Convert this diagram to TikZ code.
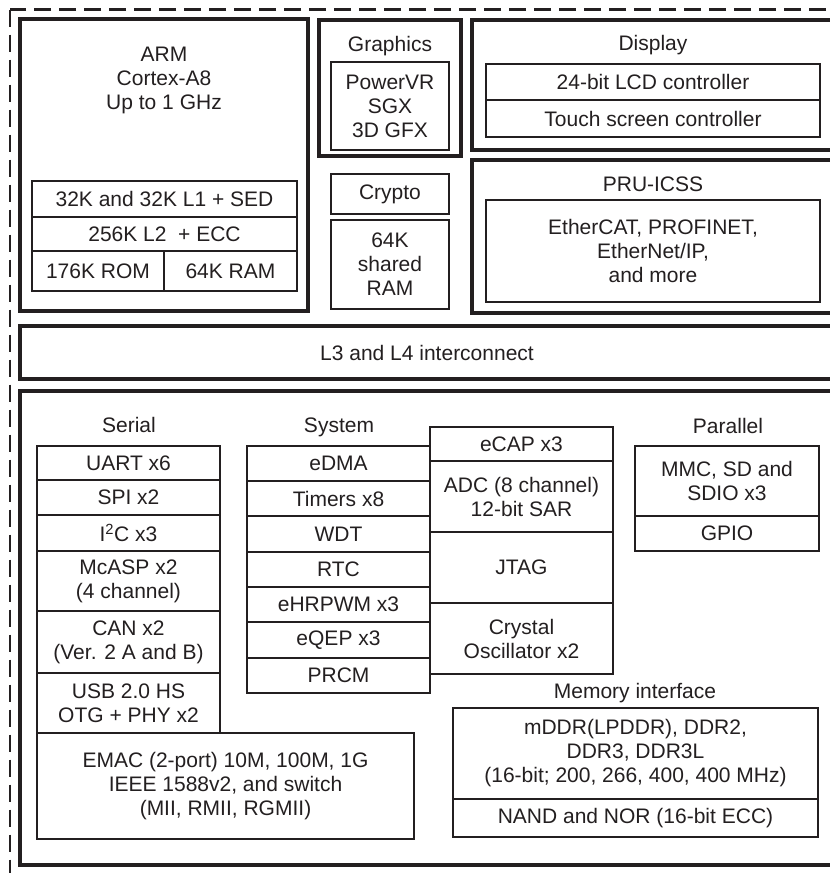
\documentclass[tikz,border=0pt]{standalone}
\usepackage{fontspec}
\setmainfont{Liberation Sans}
\definecolor{ink}{RGB}{35,31,32}
\begin{document}
\begin{tikzpicture}[x=1pt,y=-1pt,
  every node/.style={inner sep=0pt,outer sep=0pt,font=\fontsize{21}{24}\selectfont,text=ink,align=center},
  thickbox/.style={draw=ink,line width=3.5pt,rectangle},
  thinbox/.style={draw=ink,line width=2pt,rectangle},
  lbl/.style={},
]
\useasboundingbox (0,0) rectangle (830,873);
\clip (0,0) rectangle (830,873);
\fill[white] (0,0) rectangle (830,873);
% outer dashed boundary
\coordinate (otl) at (10,9.5);
\coordinate (obr) at (850,890);
\draw[ink,line width=2.4pt,dash pattern=on 17pt off 8pt] (otl) rectangle (obr);

% ---- thick boxes
\node[thickbox,minimum width=288pt,minimum height=292pt] (arm) at (164,165) {};
\node[thickbox,minimum width=142pt,minimum height=136pt] (gfx) at (390,88) {};
\node[thickbox,minimum width=368pt,minimum height=130pt] (disp) at (656,85) {};
\node[thickbox,minimum width=368pt,minimum height=153pt] (pru) at (656,236.5) {};
\node[thickbox,minimum width=820pt,minimum height=53pt] (l3) at (430,352.5) {};
\node[thickbox,minimum width=820pt,minimum height=474pt] (per) at (430,628) {};

% ---- ARM
\node[lbl] (armt) at (164,80) {ARM\\Cortex-A8\\Up to 1 GHz};
\node[thinbox,minimum width=265pt,minimum height=36pt] (l1) at (164.5,199) {32K and 32K L1 + SED};
\node[thinbox,minimum width=265pt,minimum height=34pt] (l2) at (164.5,234) {256K L2\ \ + ECC};
\node[thinbox,minimum width=132pt,minimum height=40pt] (rom) at (98,271) {176K ROM};
\node[thinbox,minimum width=133pt,minimum height=40pt] (ram) at (230.5,271) {64K RAM};

% ---- Graphics
\node[lbl] (gfxt) at (390,46) {Graphics};
\node[thinbox,minimum width=118pt,minimum height=88pt] (pvr) at (390,106) {PowerVR\\SGX\\3D GFX};
\node[thinbox,minimum width=118pt,minimum height=40pt] (crypto) at (390,194) {Crypto};
\node[thinbox,minimum width=118pt,minimum height=89pt] (sram) at (390,264.5) {64K\\shared\\RAM};

% ---- Display
\node[lbl] (dispt) at (653,45) {Display};
\node[thinbox,minimum width=334pt,minimum height=36pt] (lcd) at (653,82) {24-bit LCD controller};
\node[thinbox,minimum width=334pt,minimum height=37pt] (touch) at (653,118.5) {Touch screen controller};

% ---- PRU-ICSS
\node[lbl] (prut) at (653,184) {PRU-ICSS};
\node[thinbox,minimum width=334pt,minimum height=102pt] (ether) at (653,251) {EtherCAT, PROFINET,\\EtherNet/IP,\\and more};

% ---- Interconnect
\node[lbl] (l3t) at (427,353) {L3 and L4 interconnect};

% ---- Serial
\node[lbl] (sert) at (129,425) {Serial};
\node[thinbox,minimum width=183pt,minimum height=34pt] (uart) at (128.5,463) {UART x6};
\node[thinbox,minimum width=183pt,minimum height=35pt] (spi) at (128.5,497.5) {SPI x2};
\node[thinbox,minimum width=183pt,minimum height=36pt] (i2c) at (128.5,533) {I\textsuperscript{2}C x3};
\node[thinbox,minimum width=183pt,minimum height=60pt] (mcasp) at (128.5,581) {McASP x2\\(4 channel)};
\node[thinbox,minimum width=183pt,minimum height=62pt] (can) at (128.5,642) {CAN x2\\(Ver. 2 A and B)};
\node[thinbox,minimum width=183pt,minimum height=60pt] (usb) at (128.5,703) {USB 2.0 HS\\OTG + PHY x2};
\node[thinbox,minimum width=377pt,minimum height=106pt] (emac) at (225.5,786) {EMAC (2-port) 10M, 100M, 1G\\IEEE 1588v2, and switch\\(MII, RMII, RGMII)};

% ---- System
\node[lbl] (syst) at (339,427) {System};
\node[thinbox,minimum width=183pt,minimum height=35pt] (edma) at (338.5,463.5) {eDMA};
\node[thinbox,minimum width=183pt,minimum height=35pt] (timers) at (338.5,498.5) {Timers x8};
\node[thinbox,minimum width=183pt,minimum height=36pt] (wdt) at (338.5,534) {WDT};
\node[thinbox,minimum width=183pt,minimum height=35pt] (rtc) at (338.5,569.5) {RTC};
\node[thinbox,minimum width=183pt,minimum height=35pt] (pwm) at (338.5,604.5) {eHRPWM x3};
\node[thinbox,minimum width=183pt,minimum height=36pt] (qep) at (338.5,640) {eQEP x3};
\node[thinbox,minimum width=183pt,minimum height=35pt] (prcm) at (338.5,675.5) {PRCM};
\node[thinbox,minimum width=183pt,minimum height=34pt] (ecap) at (521.5,444) {eCAP x3};
\node[thinbox,minimum width=183pt,minimum height=71pt] (adc) at (521.5,496.5) {ADC (8 channel)\\12-bit SAR};
\node[thinbox,minimum width=183pt,minimum height=71pt] (jtag) at (521.5,567.5) {JTAG};
\node[thinbox,minimum width=183pt,minimum height=71pt] (xtal) at (521.5,638.5) {Crystal\\Oscillator x2};

% ---- Parallel
\node[lbl] (part) at (728,426) {Parallel};
\node[thinbox,minimum width=184pt,minimum height=70pt] (mmc) at (727,481) {MMC, SD and\\SDIO x3};
\node[thinbox,minimum width=184pt,minimum height=35pt] (gpio) at (727,533.5) {GPIO};

% ---- Memory interface
\node[lbl] (memt) at (635,693) {Memory interface};
\node[thinbox,minimum width=365pt,minimum height=91pt] (ddr) at (635.5,753.5) {mDDR(LPDDR), DDR2,\\DDR3, DDR3L\\(16-bit; 200, 266, 400, 400 MHz)};
\node[thinbox,minimum width=365pt,minimum height=38pt] (nand) at (635.5,818) {NAND and NOR (16-bit ECC)};
\end{tikzpicture}
\end{document}
